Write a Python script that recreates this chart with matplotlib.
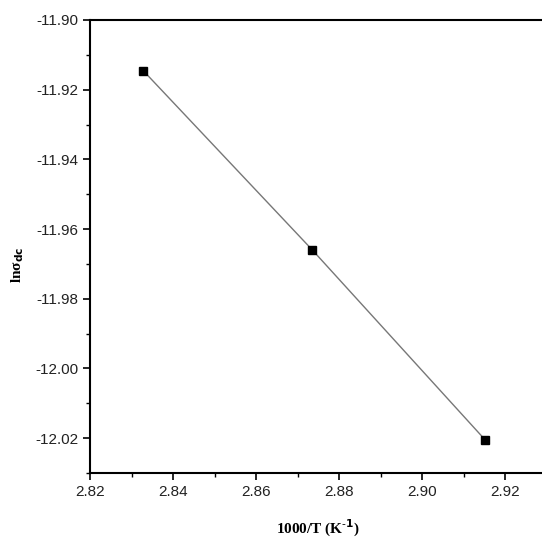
import matplotlib
matplotlib.use("Agg")
import matplotlib.pyplot as plt
from matplotlib.ticker import MultipleLocator

x_vals = [2.8328, 2.8735, 2.9153]
y_vals = [-11.9145, -11.9659, -12.0206]
x_ticks = [2.82, 2.84, 2.86, 2.88, 2.90, 2.92]
y_ticks = [-11.90, -11.92, -11.94, -11.96, -11.98, -12.00, -12.02]

fig = plt.figure(figsize=(5.42, 5.41), dpi=100)
ax = fig.add_axes([90/542, 68/541, 456.5/542, 453/541])
ax.plot(x_vals, y_vals, color="#777777", lw=1.0, zorder=2)
ax.plot(x_vals, y_vals, ls="none", marker="s", ms=5.5, color="black", zorder=3)

ax.set_xlim(2.82, 2.93)
ax.set_ylim(-12.03, -11.90)
ax.set_xticks(x_ticks)
ax.set_yticks(y_ticks)
ax.set_xticklabels([f"{v:.2f}" for v in x_ticks])
ax.set_yticklabels([f"{v:.2f}" for v in y_ticks])
ax.xaxis.set_minor_locator(MultipleLocator(0.01))
ax.yaxis.set_minor_locator(MultipleLocator(0.01))
ax.tick_params(which="major", direction="out", length=5, width=1.2, labelsize=11, labelcolor="#222222")
ax.tick_params(which="minor", direction="out", length=3, width=1.0)
for lab in ax.get_xticklabels() + ax.get_yticklabels():
    lab.set_family("Liberation Sans")
for s in ax.spines.values():
    s.set_linewidth(1.5)
ax.spines["right"].set_visible(False)

ax.set_xlabel("1000/T (K$^{\\mathbf{\\text{-}1}}$)", family="Liberation Serif", fontweight="bold", fontsize=11)
ax.xaxis.set_label_coords(0.5, -0.1)
ax.set_ylabel("lnσ$_{\\mathbf{dc}}$", family="Liberation Serif", fontweight="bold", fontsize=11)
ax.yaxis.set_label_coords(-0.14, 0.46)

fig.savefig("out.png", dpi=100)
